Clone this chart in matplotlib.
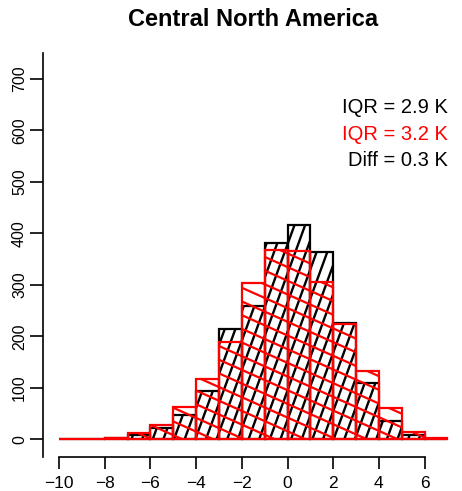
import numpy as np
import matplotlib
matplotlib.use("Agg")
from matplotlib import pyplot as plt
from matplotlib.collections import LineCollection
from matplotlib.patches import PathPatch
from matplotlib.path import Path
from matplotlib.transforms import Affine2D

plt.rcParams['font.family'] = ['Liberation Sans', 'DejaVu Sans']

# histogram bins (1 K wide) and counts per bin
bin_edges = np.arange(-10, 8, 1)
counts_black = [0, 1, 3, 9, 22, 48, 95, 215, 260, 382, 417, 364, 226, 109, 35, 9, 0]
counts_red = [1, 1, 2, 13, 28, 64, 117, 190, 303, 368, 366, 306, 225, 132, 62, 15, 2]

x_ticks = np.arange(-10, 7, 2)
y_ticks = np.arange(0, 701, 100)

title = 'Central North America'
labels = ['IQR = 2.9 K', 'IQR = 3.2 K', 'Diff = 0.3 K']
label_colors = ['black', 'red', 'black']

W, H = 462, 491
fig = plt.figure(figsize=(W / 100, H / 100), dpi=100)
ax = fig.add_axes([43 / W, 34 / H, (455 - 43) / W, (457 - 53) / H])
ax.set_xlim(-10.70, 7.33)
ax.set_ylim(-34, 750)


def bars_path(edges, heights):
    verts, codes = [], []
    for x0, h in zip(edges[:-1], heights):
        if h <= 0:
            continue
        verts += [(x0, 0), (x0 + 1, 0), (x0 + 1, h), (x0, h), (x0, 0)]
        codes += [Path.MOVETO, Path.LINETO, Path.LINETO, Path.LINETO, Path.CLOSEPOLY]
    return Path(verts, codes)


def hatch(ax, heights, angle, spacing, color, lw, z):
    # shading lines laid out in pixel units over the whole axes, clipped to the bars
    bbox = ax.get_position()
    w_px, h_px = bbox.width * W, bbox.height * H
    to_axes = Affine2D().scale(1 / w_px, 1 / h_px) + ax.transAxes
    a = np.deg2rad(angle)
    d = np.array([np.cos(a), np.sin(a)])
    n = np.array([-np.sin(a), np.cos(a)])
    diag = np.hypot(w_px, h_px)
    segs = []
    for off in np.arange(-diag, diag, spacing):
        c = n * off
        segs.append([c - d * 2 * diag, c + d * 2 * diag])
    clip = PathPatch(bars_path(bin_edges, heights), transform=ax.transData)
    lc = LineCollection(segs, colors=color, linewidths=lw, transform=to_axes, zorder=z)
    lc.set_clip_path(clip)
    ax.add_collection(lc)


hatch(ax, counts_black, 70, 10.0, 'black', 1.7, 1)
ax.bar(bin_edges[:-1], counts_black, width=1, align='edge', fill=False,
       edgecolor='black', linewidth=1.6, zorder=2)
hatch(ax, counts_red, -24, 12.5, 'red', 1.6, 3)
ax.bar(bin_edges[:-1], counts_red, width=1, align='edge', fill=False,
       edgecolor='red', linewidth=1.6, zorder=4)

for side in ['top', 'right']:
    ax.spines[side].set_visible(False)
ax.spines['left'].set_linewidth(1.2)
ax.spines['bottom'].set_linewidth(1.2)
ax.spines['bottom'].set_bounds(-10, 6)

ax.set_xticks(x_ticks)
ax.set_yticks(y_ticks)
ax.tick_params(axis='x', length=8.5, width=1.2, pad=5, labelsize=12.5)
ax.tick_params(axis='y', length=9.5, width=1.2, pad=2, labelsize=11.5)
for lab in ax.get_yticklabels():
    lab.set_rotation(90)
    lab.set_va('center')

fig.text(253 / W, 1 - 19 / H, title, ha='center', va='center',
         fontsize=17, fontweight='bold')

for i, (txt, col) in enumerate(zip(labels, label_colors)):
    fig.text(448 / W, 1 - (108 + 26.5 * i) / H, txt, ha='right', va='center',
             fontsize=14.5, color=col)

fig.savefig('out.png', dpi=100)
